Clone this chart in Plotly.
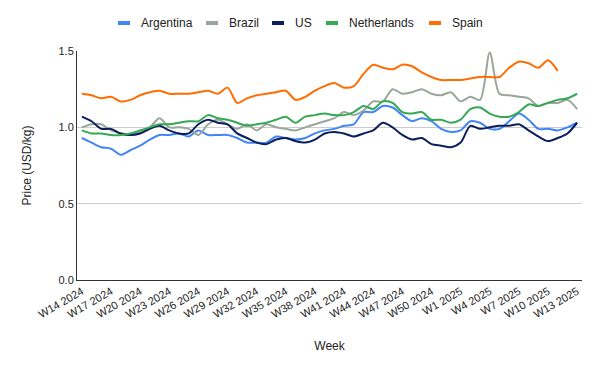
import plotly.graph_objects as go

weeks = [f"W{w} 2024" for w in range(14, 53)] + [f"W{w} 2025" for w in range(1, 14)]

argentina = [0.93, 0.90, 0.87, 0.86, 0.82, 0.85, 0.88, 0.92, 0.95, 0.95, 0.96, 0.94, 0.98,
             0.95, 0.95, 0.95, 0.93, 0.90, 0.90, 0.90, 0.94, 0.93, 0.92, 0.93, 0.96, 0.98,
             0.99, 1.01, 1.02, 1.10, 1.10, 1.14, 1.13, 1.08, 1.04, 1.06, 1.04, 0.99, 0.97,
             0.98, 1.04, 1.03, 0.99, 0.99, 1.04, 1.09, 1.05, 0.99, 0.99, 0.98, 1.00, 1.03]
brazil = [1.00, 1.02, 1.02, 0.98, 0.96, 0.95, 0.97, 1.00, 1.06, 1.00, 1.00, 0.99, 0.95,
          1.02, 1.05, 1.02, 0.99, 1.02, 0.98, 1.02, 1.00, 0.99, 0.98, 1.00, 1.02, 1.04,
          1.06, 1.10, 1.08, 1.11, 1.17, 1.17, 1.25, 1.22, 1.23, 1.25, 1.22, 1.21, 1.23,
          1.17, 1.20, 1.18, 1.49, 1.22, 1.21, 1.20, 1.19, 1.14, 1.16, 1.16, 1.18, 1.12]
us = [1.07, 1.04, 0.99, 0.99, 0.96, 0.95, 0.96, 0.99, 1.01, 0.98, 0.96, 0.96, 1.02,
      1.05, 1.03, 1.02, 0.96, 0.93, 0.90, 0.89, 0.92, 0.93, 0.91, 0.90, 0.92, 0.96,
      0.97, 0.96, 0.94, 0.96, 0.98, 1.03, 1.00, 0.95, 0.92, 0.93, 0.89, 0.88, 0.87,
      0.90, 1.01, 0.99, 1.00, 1.01, 1.01, 1.02, 0.98, 0.94, 0.91, 0.93, 0.96, 1.03]
netherlands = [0.98, 0.96, 0.96, 0.95, 0.95, 0.96, 0.98, 1.00, 1.02, 1.02, 1.03, 1.04, 1.04,
               1.08, 1.06, 1.05, 1.03, 1.01, 1.02, 1.03, 1.05, 1.07, 1.03, 1.07, 1.08, 1.09,
               1.08, 1.08, 1.10, 1.14, 1.12, 1.17, 1.16, 1.10, 1.09, 1.10, 1.05, 1.05, 1.03,
               1.05, 1.12, 1.13, 1.09, 1.07, 1.07, 1.10, 1.15, 1.14, 1.16, 1.18, 1.19, 1.22]
spain = [1.22, 1.21, 1.19, 1.20, 1.17, 1.18, 1.21, 1.23, 1.24, 1.22, 1.22, 1.22, 1.23,
         1.24, 1.22, 1.26, 1.16, 1.19, 1.21, 1.22, 1.23, 1.24, 1.18, 1.20, 1.24, 1.27,
         1.29, 1.26, 1.27, 1.35, 1.41, 1.39, 1.38, 1.41, 1.40, 1.36, 1.33, 1.31, 1.31,
         1.31, 1.32, 1.33, 1.33, 1.33, 1.39, 1.43, 1.42, 1.39, 1.44, 1.37, None, None]

series = [
    ("Argentina", argentina, "#4285F4"),
    ("Brazil", brazil, "#9AA69A"),
    ("US", us, "#0B1F5C"),
    ("Netherlands", netherlands, "#34A853"),
    ("Spain", spain, "#FF6D01"),
]

fig = go.Figure()
for name, vals, color in series:
    fig.add_trace(go.Scatter(
        x=weeks, y=vals, name=name, mode="lines",
        line=dict(color=color, width=2, shape="spline", smoothing=0.8),
        connectgaps=False, showlegend=False,
    ))

# custom compact legend (Google-Charts style)
legend_x = [118, 206, 272, 326, 429]
for (name, vals, color), lx in zip(series, legend_x):
    fig.add_shape(type="rect", xref="paper", yref="paper",
                  x0=(lx - 77) / 505, x1=(lx + 12 - 77) / 505,
                  y0=(280 - 25) / 229, y1=(280 - 21) / 229,
                  fillcolor=color, line=dict(width=0))
    fig.add_annotation(text=name, xref="paper", yref="paper",
                       x=(lx + 21 - 77) / 505, y=(280 - 23) / 229,
                       xanchor="left", yanchor="middle", showarrow=False,
                       font=dict(size=12, color="#222222"))

tick_idx = list(range(0, len(weeks), 3))
fig.update_layout(
    width=600, height=371,
    margin=dict(l=77, r=18, t=51, b=91),
    paper_bgcolor="white", plot_bgcolor="white",
    font=dict(family="Liberation Sans, Arial, sans-serif", size=11, color="#222222"),
    xaxis=dict(
        type="category", range=[-0.5, len(weeks) - 0.5],
        tickmode="array", tickvals=[weeks[i] for i in tick_idx],
        ticktext=[weeks[i] for i in tick_idx],
        tickangle=-30, tickfont=dict(size=11),
        showgrid=False, showline=True, linecolor="#333333", linewidth=1,
        ticks="", title=dict(text="Week", font=dict(size=12), standoff=22),
    ),
    yaxis=dict(
        range=[0, 1.5], tickvals=[0, 0.5, 1.0, 1.5], tickformat=".1f",
        showgrid=True, gridcolor="#cccccc", gridwidth=1,
        showline=True, linecolor="#333333", linewidth=1, zeroline=False,
        ticks="", title=dict(text="Price (USD/kg)", font=dict(size=12), standoff=24),
    ),
)

fig.write_html("out.html", config={"displayModeBar": False},
               post_script="document.body.style.margin='0';")
